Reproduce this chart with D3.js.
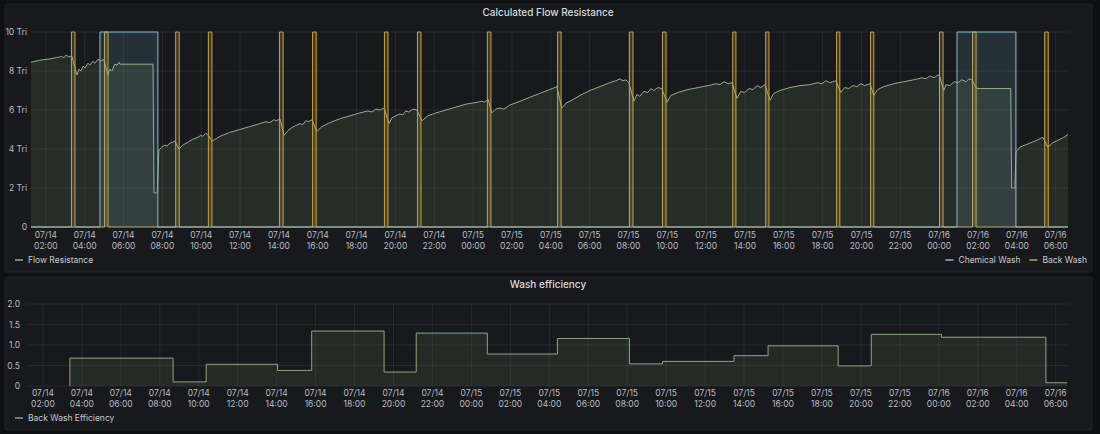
<!DOCTYPE html>
<html>
<head>
<meta charset="utf-8">
<script src="https://cdn.jsdelivr.net/npm/d3@7"></script>
<style>
  html, body { margin: 0; padding: 0; background: #0f1013; }
  svg { display: block; font-family: Inter, "Noto Sans", sans-serif; }
</style>
</head>
<body>
<div id="chart"></div>
<script>
// hours since 07/14 00:00, value in Tri
const flowResistance = [
  [1.23, 8.45], [1.69, 8.55], [2.21, 8.62], [2.62, 8.7], [2.82, 8.75], [2.93, 8.68], [3.03, 8.82], [3.18, 8.72], [3.34, 8.78],
  [3.60, 7.8], [3.70, 8.1], [3.80, 8.0], [3.91, 8.25], [4.01, 8.15], [4.16, 8.4], [4.27, 8.3], [4.42, 8.5], [4.52, 8.4], [4.68, 8.6], [4.83, 8.5], [4.99, 8.6],
  [5.19, 7.8], [5.30, 8.1], [5.40, 8.0], [5.55, 8.35], [5.66, 8.3], [5.76, 8.45], [5.81, 8.35], [7.51, 8.35], [7.56, 1.75], [7.74, 1.75],
  [7.82, 3.95], [7.97, 4.1], [8.13, 4.2], [8.23, 4.15], [8.39, 4.3], [8.54, 4.35], [8.64, 4.4],
  [8.85, 4.0], [9.05, 4.2], [9.31, 4.35], [9.57, 4.5], [9.83, 4.6], [9.98, 4.7], [10.08, 4.65], [10.24, 4.8], [10.34, 4.75],
  [10.55, 4.4], [10.96, 4.65], [11.47, 4.85], [11.99, 5.0], [12.5, 5.15], [13.02, 5.3], [13.33, 5.4], [13.53, 5.35], [13.74, 5.5], [13.89, 5.45], [14.05, 5.55],
  [14.26, 4.7], [14.46, 4.95], [14.67, 5.1], [14.87, 5.2], [15.08, 5.3], [15.23, 5.25], [15.39, 5.45], [15.54, 5.4], [15.70, 5.5],
  [15.95, 4.9], [16.21, 5.15], [16.62, 5.35], [17.14, 5.55], [17.65, 5.7], [18.17, 5.85], [18.58, 5.95], [18.79, 5.9], [19.0, 6.05], [19.2, 6.0], [19.41, 6.1],
  [19.66, 5.3], [19.82, 5.6], [20.02, 5.7], [20.23, 5.8], [20.38, 5.75], [20.54, 5.95], [20.69, 5.9], [20.9, 6.05], [21.1, 6.0],
  [21.36, 5.45], [21.67, 5.7], [22.08, 5.85], [22.6, 6.0], [23.11, 6.15], [23.63, 6.3], [23.94, 6.35], [24.25, 6.4], [24.45, 6.45], [24.61, 6.4], [24.76, 6.55],
  [24.97, 5.85], [25.17, 6.05], [25.38, 6.1], [25.58, 6.05], [25.89, 6.25], [26.41, 6.45], [26.92, 6.65], [27.44, 6.85], [27.95, 7.05], [28.31, 7.2],
  [28.57, 6.1], [28.78, 6.35], [29.09, 6.5], [29.5, 6.75], [30.01, 7.0], [30.53, 7.2], [31.04, 7.4], [31.35, 7.5], [31.56, 7.6], [31.71, 7.5], [31.87, 7.55], [32.02, 7.4],
  [32.28, 6.45], [32.43, 6.8], [32.59, 6.7], [32.79, 6.95], [33.0, 6.9], [33.15, 7.1], [33.3, 7.0], [33.51, 7.15], [33.72, 7.1],
  [33.98, 6.4], [34.19, 6.75], [34.55, 6.9], [35.06, 7.05], [35.58, 7.15], [36.1, 7.25], [36.51, 7.35], [36.72, 7.3], [36.92, 7.45], [37.13, 7.35], [37.33, 7.4],
  [37.58, 6.6], [37.79, 6.95], [37.99, 6.9], [38.2, 7.1], [38.41, 7.05], [38.61, 7.25], [38.82, 7.15], [39.03, 7.3],
  [39.28, 6.5], [39.49, 6.85], [39.8, 7.0], [40.31, 7.15], [40.83, 7.25], [41.34, 7.3], [41.75, 7.4], [41.96, 7.35], [42.17, 7.5], [42.37, 7.4], [42.68, 7.5],
  [42.94, 6.9], [43.14, 7.15], [43.35, 7.1], [43.55, 7.25], [43.76, 7.2], [43.97, 7.35], [44.17, 7.25], [44.43, 7.35],
  [44.64, 6.75], [44.84, 7.05], [45.15, 7.2], [45.67, 7.35], [46.18, 7.45], [46.7, 7.55], [47.11, 7.65], [47.32, 7.6], [47.52, 7.75], [47.73, 7.65], [47.94, 7.8], [48.04, 7.7],
  [48.24, 7.0], [48.35, 7.3], [48.55, 7.25], [48.76, 7.45], [48.97, 7.4], [49.17, 7.55], [49.38, 7.45], [49.53, 7.6], [49.68, 7.55],
  [49.94, 7.1], [51.69, 7.1], [51.74, 2.0], [51.9, 2.0],
  [51.95, 3.85], [52.16, 4.1], [52.41, 4.2], [52.67, 4.3], [52.93, 4.4], [53.13, 4.5], [53.34, 4.6],
  [53.6, 4.1], [53.81, 4.3], [54.01, 4.4], [54.21, 4.5], [54.42, 4.6], [54.63, 4.75]
]

// [start, end] in hours
const chemicalWash = [[4.78, 7.77], [48.91, 51.95]]
const backWash = [
  [3.32, 3.5], [5.02, 5.2], [8.68, 8.86], [10.37, 10.55], [14.03, 14.21], [15.73, 15.91], [19.44, 19.62],
  [21.14, 21.32], [24.74, 24.92], [28.35, 28.53], [32.05, 32.23], [33.75, 33.93], [37.36, 37.54],
  [39.06, 39.24], [42.71, 42.89], [44.46, 44.64], [48.02, 48.2], [49.72, 49.9], [53.43, 53.61]
]
const washLevel = 10

// step start hour, efficiency
const washEfficiency = [
  [3.39, 0.68], [8.69, 0.10], [10.39, 0.53], [14.05, 0.38], [15.80, 1.34], [19.51, 0.34], [21.16, 1.29],
  [24.81, 0.78], [28.42, 1.16], [32.12, 0.54], [33.82, 0.60], [37.48, 0.74], [39.23, 0.98], [42.83, 0.49],
  [44.53, 1.26], [48.14, 1.19], [53.50, 0.08], [54.58, 0.08]
]

const timeRange = [1.23, 54.63]
const flowTicks = [0, 2, 4, 6, 8, 10]
const effTicks = [0, 0.5, 1.0, 1.5, 2.0]

const W = 1100, H = 434
const base = new Date(2023, 6, 14, 0, 0)
const toDate = h => d3.timeMinute.offset(base, Math.round(h * 60))

const svg = d3.select('#chart').append('svg')
  .attr('width', W)
  .attr('height', H)

svg.append('rect').attr('width', W).attr('height', H).attr('fill', '#0f1013')

const gridColor = 'rgba(204,204,220,0.09)'
const tickColor = '#b9bcc2'
const titleColor = '#d8d9da'

function panel(y, h, title, titleY) {
  svg.append('rect')
    .attr('x', 5).attr('y', y).attr('width', 1087).attr('height', h)
    .attr('rx', 2)
    .attr('fill', '#17191d')
    .attr('stroke', '#202227')
  svg.append('text')
    .attr('x', 548).attr('y', titleY)
    .attr('text-anchor', 'middle')
    .attr('font-size', 10)
    .attr('font-weight', 500)
    .attr('fill', titleColor)
    .text(title)
}

function timeAxis(g, x, top, bottom, dy) {
  let ticks = x.ticks(d3.timeHour.every(2))
  g.append('g').selectAll('line').data(ticks).join('line')
    .attr('x1', d => x(d)).attr('x2', d => x(d))
    .attr('y1', top).attr('y2', bottom)
    .attr('stroke', gridColor)
  let lbl = g.append('g').selectAll('text').data(ticks).join('text')
    .attr('x', d => x(d))
    .attr('text-anchor', 'middle')
    .attr('font-size', 8.5)
    .attr('fill', tickColor)
  lbl.append('tspan').attr('x', d => x(d)).attr('y', bottom + dy).text(d3.timeFormat('%m/%d'))
  lbl.append('tspan').attr('x', d => x(d)).attr('y', bottom + dy + 11).text(d3.timeFormat('%H:%M'))
}

function valueAxis(g, y, ticks, fmt, left, right, labelX) {
  g.append('g').selectAll('line').data(ticks).join('line')
    .attr('x1', left).attr('x2', right)
    .attr('y1', d => y(d)).attr('y2', d => y(d))
    .attr('stroke', gridColor)
  g.append('g').selectAll('text').data(ticks).join('text')
    .attr('x', labelX).attr('y', d => y(d) + 3)
    .attr('text-anchor', 'end')
    .attr('font-size', 8.5)
    .attr('fill', tickColor)
    .text(fmt)
}

function legendItem(x, y, color, label) {
  svg.append('line')
    .attr('x1', x).attr('x2', x + 8).attr('y1', y).attr('y2', y)
    .attr('stroke', color).attr('stroke-width', 1.5)
  let t = svg.append('text')
    .attr('x', x + 13).attr('y', y + 3)
    .attr('font-size', 8.5)
    .attr('fill', '#c7c9cd')
    .text(label)
  return t.node().getComputedTextLength() + 13
}

// lay out legend items leftwards from a right edge
function legendRight(right, y, items) {
  let x = right
  items.slice().reverse().forEach(([color, label]) => {
    let tmp = svg.append('text').attr('font-size', 8.5).text(label)
    let w = tmp.node().getComputedTextLength() + 13
    tmp.remove()
    x -= w
    legendItem(x, y, color, label)
    x -= 9
  })
}

function pulses(list, level) {
  let pts = [[timeRange[0], 0]]
  list.forEach(([s, e]) => {
    pts.push([s, 0], [s, level], [e, level], [e, 0])
  })
  pts.push([timeRange[1], 0])
  return pts
}

// ---- Calculated Flow Resistance ----
panel(4, 268, 'Calculated Flow Resistance', 16)

let m1 = { left: 31, right: 1068, top: 32, bottom: 227 }
let x1 = d3.scaleTime().domain(timeRange.map(toDate)).range([m1.left, m1.right])
let y1 = d3.scaleLinear().domain([0, 10]).range([m1.bottom, m1.top])

let g1 = svg.append('g')
valueAxis(g1, y1, flowTicks, d => d === 0 ? '0' : d + ' Tri', m1.left, m1.right, 27)
timeAxis(g1, x1, m1.top, m1.bottom, 11)

svg.append('clipPath').attr('id', 'clip1').append('rect')
  .attr('x', m1.left).attr('y', m1.top - 1)
  .attr('width', m1.right - m1.left).attr('height', m1.bottom - m1.top + 2)

let plot1 = svg.append('g').attr('clip-path', 'url(#clip1)')

let area1 = d3.area().x(d => x1(toDate(d[0]))).y0(y1(0)).y1(d => y1(d[1]))
let line1 = d3.line().x(d => x1(toDate(d[0]))).y(d => y1(d[1]))

plot1.append('path').datum(flowResistance)
  .attr('d', area1)
  .attr('fill', 'rgba(118,150,92,0.16)')
plot1.append('path').datum(flowResistance)
  .attr('d', line1)
  .attr('fill', 'none')
  .attr('stroke', '#97ae86')
  .attr('stroke-width', 1)

let backWashPts = pulses(backWash, washLevel)
plot1.append('path').datum(backWashPts)
  .attr('d', area1)
  .attr('fill', 'rgba(205,165,70,0.22)')
plot1.append('path').datum(backWashPts)
  .attr('d', line1)
  .attr('fill', 'none')
  .attr('stroke', '#c4a24e')
  .attr('stroke-width', 1)

let chemPts = pulses(chemicalWash, washLevel)
plot1.append('path').datum(chemPts)
  .attr('d', area1)
  .attr('fill', 'rgba(120,185,200,0.15)')
plot1.append('path').datum(chemPts)
  .attr('d', line1)
  .attr('fill', 'none')
  .attr('stroke', '#8cb8c8')
  .attr('stroke-width', 1)

legendItem(15, 260, '#97ae86', 'Flow Resistance')
legendRight(1087, 260, [['#8cb8c8', 'Chemical Wash'], ['#c4a24e', 'Back Wash']])

// ---- Wash efficiency ----
panel(277, 153, 'Wash efficiency', 288)

let m2 = { left: 28, right: 1068, top: 304, bottom: 386 }
let x2 = d3.scaleTime().domain(timeRange.map(toDate)).range([m2.left, m2.right])
let y2 = d3.scaleLinear().domain([0, 2]).range([m2.bottom, m2.top])

let g2 = svg.append('g')
valueAxis(g2, y2, effTicks, d => d === 0 ? '0' : d3.format('.1f')(d), m2.left, m2.right, 20)
timeAxis(g2, x2, m2.top, m2.bottom, 10)

let area2 = d3.area().curve(d3.curveStepAfter)
  .x(d => x2(toDate(d[0]))).y0(y2(0)).y1(d => y2(d[1]))
let line2 = d3.line().curve(d3.curveStepAfter)
  .x(d => x2(toDate(d[0]))).y(d => y2(d[1]))

svg.append('path').datum(washEfficiency)
  .attr('d', area2)
  .attr('fill', 'rgba(118,150,92,0.14)')
svg.append('path').datum([[washEfficiency[0][0], 0]].concat(washEfficiency))
  .attr('d', line2)
  .attr('fill', 'none')
  .attr('stroke', '#8fa67f')
  .attr('stroke-width', 1)

legendItem(15, 418, '#8fa67f', 'Back Wash Efficiency')
</script>
</body>
</html>
